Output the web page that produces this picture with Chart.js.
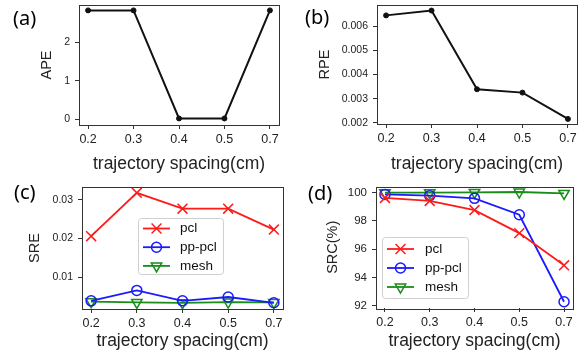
<!DOCTYPE html>
<html>
<head>
<meta charset="utf-8">
<script src="https://cdn.jsdelivr.net/npm/chart.js@4/dist/chart.umd.min.js"></script>
<style>
    body { margin: 0; background: #fff; width: 585px; height: 356px; position: relative; overflow: hidden; }
    .panel { position: absolute; }
    .tag { position: absolute; font-family: "Noto Sans"; font-size: 20px; line-height: 1; color: #000; }
</style>
</head>
<body>
<div class="panel" style="left:0;top:0"><canvas id="apeChart" width="292" height="178"></canvas></div>
<div class="panel" style="left:292px;top:0"><canvas id="rpeChart" width="293" height="178"></canvas></div>
<div class="panel" style="left:0;top:178px"><canvas id="sreChart" width="292" height="178"></canvas></div>
<div class="panel" style="left:292px;top:178px"><canvas id="srcChart" width="293" height="178"></canvas></div>
<div class="tag" style="left:13px;top:8px">(a)</div>
<div class="tag" style="left:305px;top:7px">(b)</div>
<div class="tag" style="left:14px;top:182px">(c)</div>
<div class="tag" style="left:308px;top:183px">(d)</div>
<script>
// Chart values
const spacings = ['0.2', '0.3', '0.4', '0.5', '0.7'];

const apeValues = [2.83, 2.83, 0.02, 0.02, 2.83];
const rpeValues = [0.00645, 0.00665, 0.00339, 0.00325, 0.00216];

const srePcl = [0.0206, 0.0318, 0.0277, 0.0277, 0.0223];
const srePpPcl = [0.0039, 0.0066, 0.0039, 0.0049, 0.0034];
const sreMesh = [0.0037, 0.0035, 0.0034, 0.0036, 0.0035];

const srcPcl = [99.63, 99.42, 98.77, 97.14, 94.86];
const srcPpPcl = [99.88, 99.79, 99.60, 98.44, 92.28];
const srcMesh = [100.0, 100.0, 100.02, 100.05, 99.95];

const apeTicks = [0, 1, 2];
const rpeTicks = [0.002, 0.003, 0.004, 0.005, 0.006];
const sreTicks = [0.01, 0.02, 0.03];
const srcTicks = [92, 94, 96, 98, 100];

const seriesNames = ['pcl', 'pp-pcl', 'mesh'];

const FONT = 'Liberation Sans';

// turn a value list into {x: index, y: value} points
function toPoints(values) {
    return values.map((v, i) => ({ x: i, y: v }));
}

// draws the box round the plot area (all four spines)
const framePlugin = {
    id: 'frame',
    afterDatasetsDraw(chart) {
        const a = chart.chartArea;
        const ctx = chart.ctx;
        ctx.save();
        ctx.strokeStyle = '#333';
        ctx.lineWidth = 1;
        ctx.strokeRect(Math.round(a.left) + 0.5, Math.round(a.top) + 0.5,
            Math.round(a.right - a.left), Math.round(a.bottom - a.top));
        ctx.restore();
    }
};

// legend with a line and the marker in the middle, like matplotlib
const markerLegendPlugin = {
    id: 'markerLegend',
    afterDraw(chart, args, opts) {
        if (!opts || !opts.show) return;
        const ctx = chart.ctx;
        ctx.save();
        ctx.fillStyle = 'rgba(255,255,255,0.85)';
        ctx.strokeStyle = '#d0d0d0';
        ctx.lineWidth = 1;
        ctx.beginPath();
        ctx.roundRect(opts.x + 0.5, opts.y + 0.5, opts.w, opts.h, 3);
        ctx.fill();
        ctx.stroke();

        chart.data.datasets.forEach((ds, i) => {
            const cy = opts.y + opts.first + i * opts.gap;
            const x0 = opts.x + 5;
            const x1 = x0 + opts.lineLen;
            ctx.strokeStyle = ds.borderColor;
            ctx.lineWidth = ds.borderWidth;
            ctx.beginPath();
            ctx.moveTo(x0, cy);
            ctx.lineTo(x1, cy);
            ctx.stroke();
            ctx.fillStyle = 'rgba(0,0,0,0)';
            ctx.strokeStyle = ds.pointBorderColor;
            ctx.lineWidth = ds.pointBorderWidth;
            if (Chart.helpers && Chart.helpers.drawPoint) {
                Chart.helpers.drawPoint(ctx, {
                    pointStyle: ds.pointStyle,
                    rotation: ds.pointRotation || 0,
                    radius: ds.pointRadius,
                    borderWidth: ds.pointBorderWidth
                }, (x0 + x1) / 2, cy);
            }
            ctx.fillStyle = '#111';
            ctx.font = opts.fontSize + 'px "' + FONT + '"';
            ctx.textBaseline = 'middle';
            ctx.textAlign = 'left';
            ctx.fillText(ds.label, x1 + opts.textGap, cy);
        });
        ctx.restore();
    }
};

function makePanel(canvasId, cfg) {
    const canvas = document.getElementById(canvasId);
    const W = canvas.width, H = canvas.height;
    const area = cfg.area;
    return new Chart(canvas.getContext('2d'), {
        type: 'line',
        data: { datasets: cfg.datasets },
        options: {
            responsive: false,
            animation: false,
            devicePixelRatio: 1,
            layout: { padding: { left: 0, top: area.top, right: W - area.right, bottom: 0 } },
            plugins: {
                legend: { display: false },
                tooltip: { enabled: false },
                markerLegend: cfg.legend || { show: false }
            },
            scales: {
                x: {
                    type: 'linear',
                    min: -0.2,
                    max: 4.2,
                    afterBuildTicks: s => { s.ticks = spacings.map((_, i) => ({ value: i })); },
                    afterFit: s => { s.height = H - area.bottom; s.paddingLeft = 0; s.paddingRight = 0; },
                    ticks: {
                        callback: v => spacings[v],
                        font: { family: FONT, size: 12.5 },
                        color: '#222',
                        padding: 3,
                        maxRotation: 0,
                        autoSkip: false
                    },
                    grid: { drawOnChartArea: false, drawTicks: true, tickLength: 4, color: '#333' },
                    border: { display: false },
                    title: {
                        display: true,
                        text: 'trajectory spacing(cm)',
                        font: { family: FONT, size: 17.5 },
                        color: '#222',
                        padding: { top: 0, bottom: H - cfg.xTitleY - 10.5 }
                    }
                },
                y: {
                    type: 'linear',
                    min: cfg.yMin,
                    max: cfg.yMax,
                    afterBuildTicks: s => { s.ticks = cfg.yTicks.map(v => ({ value: v })); },
                    afterFit: s => { s.width = area.left; s.paddingTop = 0; s.paddingBottom = 0; },
                    ticks: {
                        callback: v => v.toFixed(cfg.yDecimals),
                        font: { family: FONT, size: cfg.yFont },
                        color: '#222',
                        padding: 5
                    },
                    grid: { drawOnChartArea: false, drawTicks: true, tickLength: 4, color: '#333' },
                    border: { display: false },
                    title: {
                        display: true,
                        text: cfg.yTitle,
                        font: { family: FONT, size: 14.5 },
                        color: '#222',
                        padding: { top: cfg.yTitleX - 8.7, bottom: 0 }
                    }
                }
            }
        },
        plugins: [framePlugin, markerLegendPlugin]
    });
}

function blackSeries(values) {
    return [{
        data: toPoints(values),
        borderColor: '#111',
        borderWidth: 2,
        pointRadius: 2.5,
        pointBackgroundColor: '#111',
        pointBorderColor: '#111',
        pointBorderWidth: 1,
        tension: 0,
        clip: false
    }];
}

function threeSeries(pcl, ppPcl, mesh) {
    const base = { borderWidth: 1.8, pointBorderWidth: 1.5, pointBackgroundColor: 'rgba(0,0,0,0)', tension: 0, clip: false };
    return [
        Object.assign({}, base, { label: seriesNames[0], data: toPoints(pcl), borderColor: '#ff1a1a', pointBorderColor: '#ff1a1a', pointStyle: 'crossRot', pointRadius: 7 }),
        Object.assign({}, base, { label: seriesNames[1], data: toPoints(ppPcl), borderColor: '#1a1aff', pointBorderColor: '#1a1aff', pointStyle: 'circle', pointRadius: 5 }),
        Object.assign({}, base, { label: seriesNames[2], data: toPoints(mesh), borderColor: '#1a8c1a', pointBorderColor: '#1a8c1a', pointStyle: 'triangle', pointRotation: 180, pointRadius: 6 })
    ];
}

makePanel('apeChart', {
    area: { left: 79, top: 4, right: 279, bottom: 125 },
    yMin: -0.15, yMax: 2.97, yTicks: apeTicks, yDecimals: 0, yFont: 10.5,
    yTitle: 'APE', yTitleX: 47, xTitleY: 164,
    datasets: blackSeries(apeValues)
});

makePanel('rpeChart', {
    area: { left: 85, top: 4, right: 285, bottom: 124 },
    yMin: 0.00195, yMax: 0.00688, yTicks: rpeTicks, yDecimals: 3, yFont: 10.5,
    yTitle: 'RPE', yTitleX: 33, xTitleY: 164,
    datasets: blackSeries(rpeValues)
});

makePanel('sreChart', {
    area: { left: 82, top: 9, right: 283, bottom: 131 },
    yMin: 0.0018, yMax: 0.0333, yTicks: sreTicks, yDecimals: 2, yFont: 10.5,
    yTitle: 'SRE', yTitleX: 35, xTitleY: 163,
    datasets: threeSeries(srePcl, srePpPcl, sreMesh),
    legend: { show: true, x: 138, y: 40, w: 85, h: 56, first: 10.5, gap: 18.7, lineLen: 27, textGap: 10, fontSize: 13.5 }
});

makePanel('srcChart', {
    area: { left: 84, top: 6, right: 281, bottom: 130 },
    yMin: 91.84, yMax: 100.44, yTicks: srcTicks, yDecimals: 0, yFont: 11.5,
    yTitle: 'SRC(%)', yTitleX: 40.5, xTitleY: 163,
    datasets: threeSeries(srcPcl, srcPpPcl, srcMesh),
    legend: { show: true, x: 90, y: 59, w: 86, h: 61, first: 12, gap: 19, lineLen: 27, textGap: 11, fontSize: 13.5 }
});
</script>
</body>
</html>
